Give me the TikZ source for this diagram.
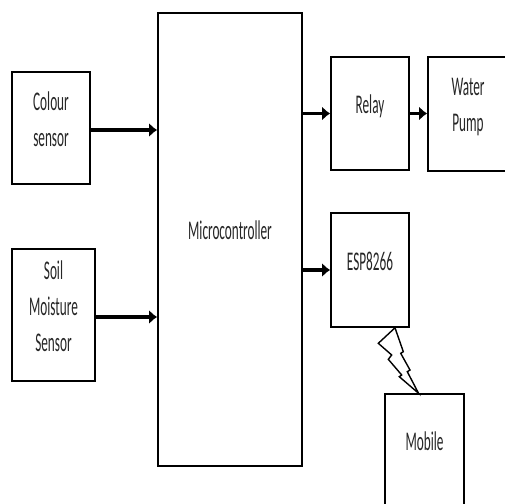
\documentclass[tikz,border=0pt]{standalone}
\usepackage{fontspec}
\setmainfont{Carlito}[FakeStretch=0.49]
\usetikzlibrary{arrows.meta}

\begin{document}
\begin{tikzpicture}[ x=1pt, y=-1pt, font=\fontsize{27}{36}\selectfont,
        text=black!85, block/.style={ draw, line width=1.6pt, align=center,
        inner sep=0pt, text depth=18pt }, arrow/.style={
        -{Latex[length=8pt,width=14pt]}, line width=3.2pt }, bolt/.style={ draw,
        line width=1.4pt, line join=miter } ]

    \useasboundingbox (0,0) rectangle (505,503);

    \node[block, minimum width=78pt, minimum height=112pt] (colour) at (51,128)
    {Colour\\sensor}; \node[block, minimum width=83pt, minimum height=132pt]
    (soil) at (53.5,315) {Soil\\Moisture\\Sensor}; \node[block, minimum
    width=144pt, minimum height=453pt] (micro) at (230,239.5)
    {Microcontroller}; \node[block, minimum width=78pt, minimum height=113pt]
    (relay) at (370,113.5) {Relay}; \node[block, minimum width=80pt, minimum
    height=114pt] (pump) at (468,114) {Water\\Pump}; \node[block, minimum
    width=78pt, minimum height=114pt] (esp) at (370,270) {ESP8266};
    \node[block, minimum width=79pt, minimum height=112pt] (mobile) at
    (424.5,450) {Mobile};

    \draw[arrow] ([yshift=-2pt]colour.east) -- ([yshift=-2pt]colour.east -|
    micro.west); \draw[arrow] ([yshift=-2pt]soil.east) -- ([yshift=-2pt]soil.east
    -| micro.west); \draw[arrow] (relay.west -| micro.east) -- (relay.west);
    \draw[arrow] (relay.east) -- (relay.east -| pump.west); \draw[arrow]
    (esp.west -| micro.east) -- (esp.west);

    % wireless link
    \coordinate (zapTop) at (esp.south -| 395,0); \coordinate (zapTip) at
    (mobile.north -| 418.5,0); \draw[bolt] (zapTop) -- (378.3,343.3) --
    (391.7,355) -- (388.3,359.3) -- (401.7,375) -- (399.3,376.7) -- (zapTip)
    -- (407.3,371.7) -- (410,370) -- (400.7,353.3) -- (403.3,351.7) -- cycle;

  \end{tikzpicture}
\end{document}
